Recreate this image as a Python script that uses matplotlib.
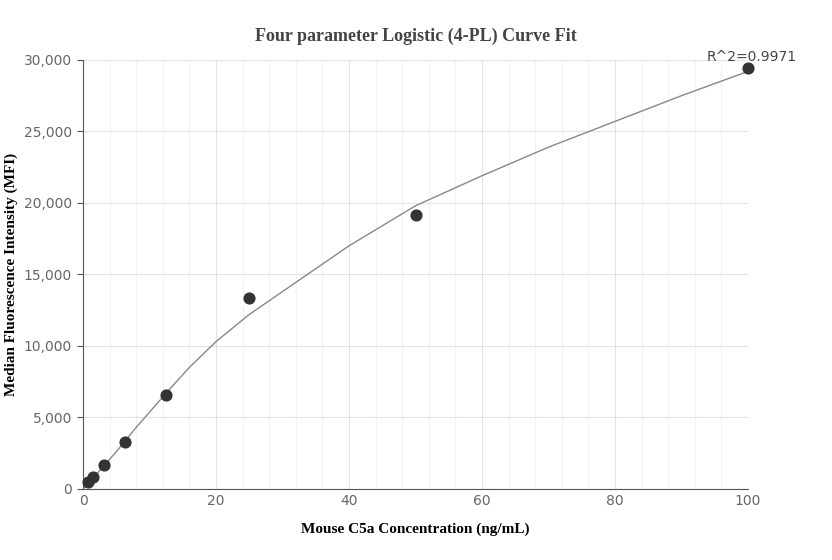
import numpy as np
import matplotlib.pyplot as plt
from matplotlib.ticker import FuncFormatter, MultipleLocator

conc = [0.78, 1.56, 3.125, 6.25, 12.5, 25, 50, 100]
mfi = [450, 800, 1650, 3300, 6550, 13350, 19150, 29400]

# fitted curve
fit_x = [0, 2, 5, 8, 12.5, 16, 20, 25, 30, 40, 50, 60, 70, 80, 90, 100]
fit_y = [0, 1000, 2600, 4300, 6700, 8500, 10300, 12200, 13800, 17000, 19800, 21900, 23900, 25700, 27500, 29200]

fig = plt.figure(figsize=(8.32, 5.6), dpi=100)
ax = fig.add_axes([0.0998, 0.127, 0.7993, 0.766])

ax.plot(fit_x, fit_y, color="#888888", linewidth=1, zorder=2)
ax.scatter(conc, mfi, s=60, color="#333333", zorder=3, clip_on=False)

ax.set_xlim(0, 100)
ax.set_ylim(0, 30000)
ax.xaxis.set_major_locator(MultipleLocator(20))
ax.xaxis.set_minor_locator(MultipleLocator(4))
ax.yaxis.set_major_locator(MultipleLocator(5000))
ax.yaxis.set_major_formatter(FuncFormatter(lambda v, p: f"{int(v):,}"))
ax.grid(which="major", color="#e3e3e3", linewidth=0.8)
ax.grid(which="minor", axis="x", color="#f2f2f2", linewidth=0.8)
ax.set_axisbelow(True)

for s in ["top", "right"]:
    ax.spines[s].set_visible(False)
for s in ["left", "bottom"]:
    ax.spines[s].set_color("#555555")
ax.tick_params(which="both", length=0, labelsize=10, colors="#666666", pad=4)
ax.tick_params(axis="y", length=4, color="#555555")

ax.text(100.5, 29700, "R^2=0.9971", ha="center", va="bottom", fontsize=10, color="#444444")

serif = "Liberation Serif"
ax.set_title("Four parameter Logistic (4-PL) Curve Fit", fontfamily=serif,
             fontweight="bold", fontsize=13, color="#444444", pad=14)
ax.set_xlabel("Mouse C5a Concentration (ng/mL)", fontfamily=serif, fontweight="bold",
              fontsize=11, labelpad=10)
ax.set_ylabel("Median Fluorescence Intensity (MFI)", fontfamily=serif, fontweight="bold", fontsize=11)

fig.savefig("out.png", dpi=100)
